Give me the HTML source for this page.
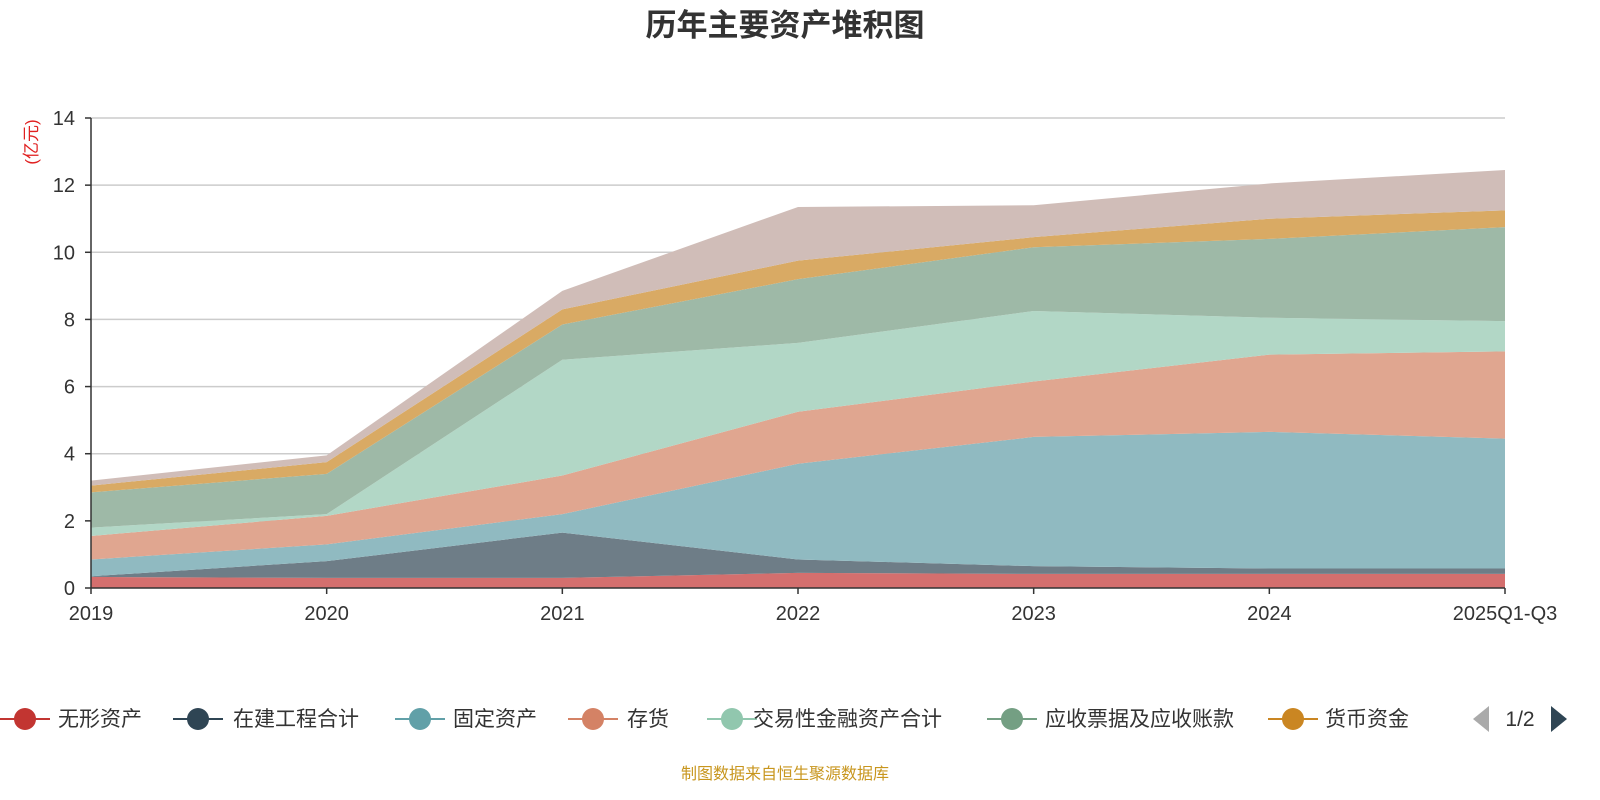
<!DOCTYPE html>
<html><head><meta charset="utf-8"><style>
body{margin:0;background:#fff;}
svg{display:block;font-family:"Liberation Sans","Noto Sans CJK SC",sans-serif;}
</style></head><body>
<svg id="chart" width="1600" height="800">
<text x="785" y="36" text-anchor="middle" font-size="31" font-weight="bold" fill="#333">历年主要资产堆积图</text>
<text transform="translate(37,142) rotate(-90)" text-anchor="middle" font-size="17" fill="#e02020">(亿元)</text>
<g id="grid"></g><g id="areas"></g><g id="axes"></g><g id="legend"></g>
<text x="785" y="779" text-anchor="middle" font-size="16" fill="#c8961e">制图数据来自恒生聚源数据库</text>
</svg>
<script>
const categories=["2019","2020","2021","2022","2023","2024","2025Q1-Q3"];
const seriesNames=["无形资产","在建工程合计","固定资产","存货","交易性金融资产合计","应收票据及应收账款","货币资金","其他"];
const s0=[0.33,0.30,0.30,0.45,0.42,0.42,0.42];
const s1=[0.02,0.50,1.35,0.40,0.23,0.16,0.16];
const s2=[0.50,0.50,0.55,2.85,3.85,4.07,3.87];
const s3=[0.70,0.85,1.15,1.55,1.65,2.30,2.60];
const s4=[0.25,0.05,3.45,2.05,2.10,1.10,0.90];
const s5=[1.05,1.20,1.05,1.90,1.90,2.35,2.80];
const s6=[0.20,0.35,0.45,0.55,0.30,0.60,0.50];
const s7=[0.15,0.20,0.55,1.60,0.95,1.05,1.20];
const yTicks=[0,2,4,6,8,10,12,14];
const series=[s0,s1,s2,s3,s4,s5,s6,s7];
const fills=["#d46f6e","#6e7d87","#90bac1","#e0a690","#b2d7c6","#9eb9a7","#d9aa64","#d0bdb8"];
const icons=["#c23531","#2f4554","#61a0a8","#d48265","#91c7ae","#749f83","#ca8622"];
const NS="http://www.w3.org/2000/svg";
const X0=91,X1=1505,Y0=588,Y1=118;
const xs=i=>X0+(X1-X0)*i/(categories.length-1);
const ys=v=>Y0-(Y0-Y1)*v/14;
function mk(t,a,p){const e=document.createElementNS(NS,t);for(const k in a)e.setAttribute(k,a[k]);p.appendChild(e);return e;}
const grid=document.getElementById('grid'),axes=document.getElementById('axes'),areas=document.getElementById('areas'),legend=document.getElementById('legend');
yTicks.forEach(v=>{
 if(v>0){const g=mk('line',{x1:X0,x2:X1,y1:ys(v),y2:ys(v),stroke:'#ccc','stroke-width':1.5},grid);
 
 }
 const t=mk('text',{x:X0-16,y:ys(v)+7,'text-anchor':'end','font-size':20,fill:'#333'},axes);t.textContent=v;
 
 
 mk('line',{x1:X0-6,x2:X0,y1:ys(v),y2:ys(v),stroke:'#333','stroke-width':1.5},axes);
});
let cum=categories.map(()=>0);
series.forEach((s,k)=>{
 const top=cum.map((c,i)=>c+s[i]);
 let d='M'+categories.map((c,i)=>xs(i)+','+ys(top[i])).join('L');
 for(let i=categories.length-1;i>=0;i--)d+='L'+xs(i)+','+ys(cum[i]);
 const p=mk('path',{d:d+'Z',fill:fills[k]},areas);
 
 
 cum=top;
});
mk('line',{x1:X0,x2:X0,y1:Y1,y2:Y0,stroke:'#333','stroke-width':1.5},axes);
mk('line',{x1:X0,x2:X1,y1:Y0,y2:Y0,stroke:'#333','stroke-width':1.5},axes);
categories.forEach((c,i)=>{
 mk('line',{x1:xs(i),x2:xs(i),y1:Y0,y2:Y0+6,stroke:'#333','stroke-width':1.5},axes);
 const t=mk('text',{x:xs(i),y:Y0+32,'text-anchor':'middle','font-size':20,fill:'#333'},axes);t.textContent=c;
 
 
});
const lx=[25,198,420,593,732,1012,1293],tx=[58,233,453,627,753,1045,1325];
icons.forEach((col,k)=>{
 const g=mk('g',{},legend);
 
 
 mk('line',{x1:lx[k]-25,x2:lx[k]+25,y1:719,y2:719,stroke:col,'stroke-width':2},g);
 mk('circle',{cx:lx[k],cy:719,r:11,fill:col},g);
 const t=mk('text',{x:tx[k],y:726,'font-size':21,fill:'#333'},g);t.textContent=seriesNames[k];
});
const pl=mk('path',{d:'M1489,706 L1473,719 L1489,732Z',fill:'#aaa'},legend);


const pt=mk('text',{x:1520,y:726,'text-anchor':'middle','font-size':21,fill:'#333'},legend);pt.textContent='1/2';


const pr=mk('path',{d:'M1551,706 L1567,719 L1551,732Z',fill:'#2f4554'},legend);


</script>
</body></html>
